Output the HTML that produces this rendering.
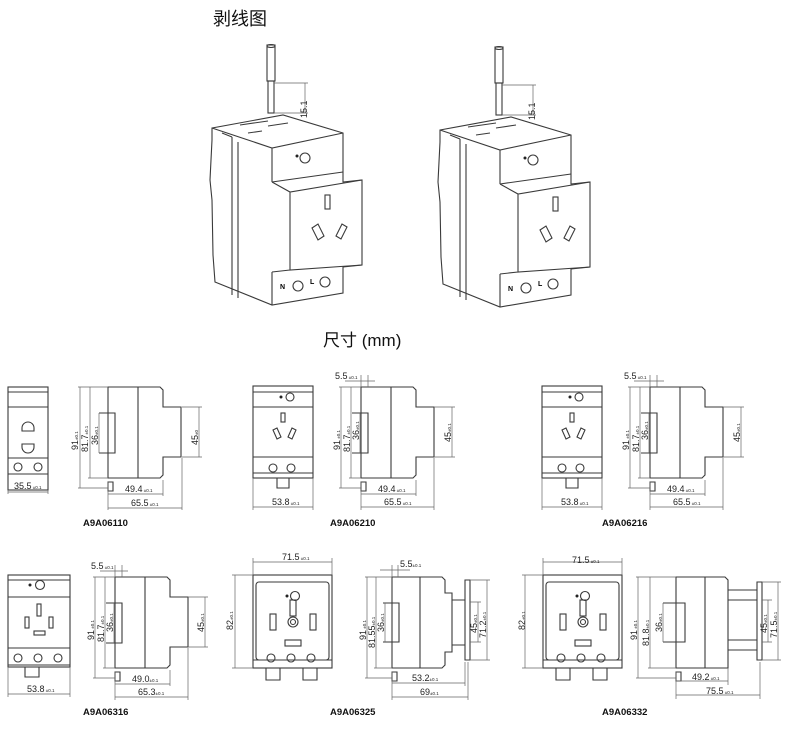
<!DOCTYPE html>
<html><head><meta charset="utf-8"><style>
html,body{margin:0;padding:0;background:#fff;}
svg{display:block;font-family:"Liberation Sans","Noto Sans CJK SC",sans-serif;}
.l{fill:none;stroke:#3a3a3a;stroke-width:1.1}
.t{stroke:#666;stroke-width:0.7;fill:none}
.d{font-size:9px;fill:#222}
.s{font-size:4.5px}
.lab{font-size:9.5px;font-weight:bold;fill:#111}
</style></head><body>
<svg width="790" height="732" viewBox="0 0 790 732" xmlns="http://www.w3.org/2000/svg">
<defs>
<g id="dev">
  <rect x="267" y="45" width="8" height="36" class="l" fill="#fff"/>
  <ellipse cx="271" cy="46" rx="4" ry="1.5" class="l"/>
  <rect x="268" y="81" width="6" height="32" class="l"/>
  <path class="t" d="M274,83 H308 M274,113 H308 M305,83 V113"/>
  <path class="l" d="M212,128 L283,115 L343,133 L343,182 L362,180 L362,265 L343,267 L343,293 L272,305 L215,282 L213,255 L212,200 L210,180 L212,140 Z"/>
  <path class="l" d="M212,128 L272,148 L343,133 M272,148 V182 M272,182 L343,172 M272,182 L290,192 L362,180 M290,192 V270 L362,265 M272,272 V305 M272,272 L290,270 M232,137 V295 M238,142 V298 M222,133 L232,137"/>
  <path class="l" d="M240,125 L268,121 M248,133 L262,131 M268,126 L288,123"/>
  <circle cx="305" cy="158" r="5" class="l"/><circle cx="297" cy="156" r="1.5" fill="#222"/>
  <rect x="325" y="195" width="5" height="14" class="l"/>
  <path class="l" d="M312,228 l6,-4 l6,12 l-6,4 Z M336,236 l6,-12 l5,3 l-6,12 Z"/>
  <circle cx="298" cy="286" r="5" class="l"/><circle cx="325" cy="282" r="5" class="l"/>
  <text x="280" y="289" style="font-size:7px;font-weight:bold">N</text>
  <text x="310" y="284" style="font-size:7px;font-weight:bold">L</text>
</g>
<g id="side">
  <path class="l" d="M0,0 H52 L55,3 V20 H73 V70 H55 V88 L52,91 H0 Z M30,0 V91 M-9,26 H7 V66 H-9 M0,66 V91 M0,95 h5 v9 h-5 Z"/>
</g>
</defs>

<text x="213" y="25" style="font-size:18px;fill:#111">剥线图</text>
<use href="#dev"/>
<use href="#dev" transform="translate(228,2)"/>
<text x="282" y="103" class="d" transform="rotate(-90 302 98)">15.1</text>
<text x="282" y="103" class="d" transform="translate(228,2) rotate(-90 302 98)">15.1</text>

<text x="323" y="346" style="font-size:17px;fill:#111">尺寸 (mm)</text>

<rect x="8" y="387" width="40" height="103" class="l"/>
<path class="l" d="M8,392 H48 M8,407 H48 M8,458 H48 M8,474 H48"/>
<path class="l" d="M22,428 a6,6 0 0 1 12,0 v3 h-12 z M22,444 h12 v3 a6,6 0 0 1 -12,0 z"/>
<circle cx="18" cy="467" r="4" class="l"/><circle cx="38" cy="467" r="4" class="l"/>
<path class="t" d="M8,490 V494 M48,490 V494 M8,492 H48"/>
<text x="14" y="489" class="d">35.5<tspan class="s"> ±0.1</tspan></text>
<use href="#side" transform="translate(108,387)"/>
<path class="t" d="M78,387 H108 M78,488 H108 M80,387 V488 M88,478 H108 M90,387 V478 M99,413 V453 M182,407 H202 M182,457 H202 M199,407 V457 M108,482 V510 M163,480 V496 M182,458 V510 M108,494 H163 M108,508 H182"/>
<text class="d" transform="translate(78,450) rotate(-90)">91<tspan class="s">±0.1</tspan></text>
<text class="d" transform="translate(88,452) rotate(-90)">81.7<tspan class="s">±0.1</tspan></text>
<text class="d" transform="translate(98,445) rotate(-90)">36<tspan class="s">±0.1</tspan></text>
<text class="d" transform="translate(198,445) rotate(-90)">45<tspan class="s">±0</tspan></text>
<text x="125" y="492" class="d">49.4<tspan class="s"> ±0.1</tspan></text>
<text x="131" y="506" class="d">65.5<tspan class="s"> ±0.1</tspan></text>
<text x="83" y="526" class="lab">A9A06110</text>

<g id="f2">
<rect x="253" y="386" width="60" height="92" class="l"/>
<path class="l" d="M253,392 H313 M253,407 H313 M253,457 H313 M253,473 H313 M277,478 v10 h12 v-10"/>
<circle cx="281" cy="397" r="1.5" fill="#222"/><circle cx="290" cy="397" r="4" class="l"/>
<rect x="281" y="413" width="4" height="9" class="l"/>
<path class="l" d="M273,430 l4,-2 l4,9 l-4,2 Z M288,437 l4,-9 l4,2 l-4,9 Z"/>
<circle cx="273" cy="468" r="4" class="l"/><circle cx="291" cy="468" r="4" class="l"/>
<path class="t" d="M253,478 V510 M313,478 V510 M253,507 H313"/>
<text x="272" y="505" class="d">53.8<tspan class="s"> ±0.1</tspan></text>
</g>
<g id="s2">
<use href="#side" transform="translate(361,387)"/>
<path class="t" d="M339,387 H361 M339,488 H361 M341,387 V488 M349,478 H361 M351,387 V478 M360,413 V453 M434,407 H455 M434,457 H455 M452,407 V457 M361,482 V510 M416,480 V496 M434,458 V510 M361,494 H416 M361,507 H434 M361,375 V387 M368,375 V387 M345,381 H375"/>
<text class="d" transform="translate(340,450) rotate(-90)">91<tspan class="s"> ±0.1</tspan></text>
<text class="d" transform="translate(350,452) rotate(-90)">81.7<tspan class="s">±0.1</tspan></text>
<text class="d" transform="translate(359,440) rotate(-90)">36<tspan class="s">±0.1</tspan></text>
<text class="d" transform="translate(451,442) rotate(-90)">45<tspan class="s">±0.1</tspan></text>
<text x="378" y="492" class="d">49.4<tspan class="s"> ±0.1</tspan></text>
<text x="384" y="505" class="d">65.5<tspan class="s"> ±0.1</tspan></text>
<text x="335" y="379" class="d">5.5<tspan class="s"> ±0.1</tspan></text>
</g>
<text x="330" y="526" class="lab">A9A06210</text>

<use href="#f2" transform="translate(289,0)"/>
<use href="#s2" transform="translate(289,0)"/>
<text x="602" y="526" class="lab">A9A06216</text>

<rect x="8" y="575" width="62" height="92" class="l"/>
<path class="l" d="M8,580 H70 M8,597 H70 M8,648 H70 M8,665 H70 M25,667 v10 h14 v-10"/>
<circle cx="30" cy="585" r="1.5" fill="#222"/><circle cx="40" cy="585" r="4.5" class="l"/>
<rect x="37" y="604" width="4" height="12" class="l"/>
<rect x="25" y="617" width="4" height="11" class="l"/><rect x="49" y="617" width="4" height="11" class="l"/>
<rect x="34" y="631" width="11" height="4" class="l"/>
<circle cx="18" cy="658" r="4" class="l"/><circle cx="38" cy="658" r="4" class="l"/><circle cx="58" cy="658" r="4" class="l"/>
<path class="t" d="M8,667 V697 M70,667 V697 M8,694 H70"/>
<text x="27" y="692" class="d">53.8<tspan class="s"> ±0.1</tspan></text>
<use href="#side" transform="translate(115,577)"/>
<path class="t" d="M93,577 H115 M93,678 H115 M95,577 V678 M103,668 H115 M105,577 V668 M114,603 V643 M188,597 H208 M188,647 H208 M205,597 V647 M115,672 V700 M170,670 V686 M188,648 V700 M115,684 H170 M115,697 H188 M115,565 V577 M122,565 V577 M100,571 H128"/>
<text class="d" transform="translate(94,640) rotate(-90)">91<tspan class="s"> ±0.1</tspan></text>
<text class="d" transform="translate(104,642) rotate(-90)">81.7<tspan class="s">±0.1</tspan></text>
<text class="d" transform="translate(113,632) rotate(-90)">36<tspan class="s">±0.1</tspan></text>
<text class="d" transform="translate(204,632) rotate(-90)">45<tspan class="s">±0.1</tspan></text>
<text x="132" y="682" class="d">49.0<tspan class="s">±0.1</tspan></text>
<text x="138" y="695" class="d">65.3<tspan class="s">±0.1</tspan></text>
<text x="91" y="569" class="d">5.5<tspan class="s"> ±0.1</tspan></text>
<text x="83" y="715" class="lab">A9A06316</text>

<g id="f5">
<rect x="253" y="575" width="79" height="93" class="l"/>
<rect x="256" y="582" width="73" height="78" rx="3" class="l"/>
<path class="l" d="M253,660 H332 M266,668 v12 h14 v-12 M303,668 v12 h14 v-12"/>
<circle cx="287" cy="596" r="1.5" fill="#222"/><circle cx="295" cy="596" r="4.5" class="l"/>
<rect x="290" y="600" width="6" height="16" class="l"/>
<rect x="270" y="614" width="6" height="16" class="l"/><rect x="310" y="614" width="6" height="16" class="l"/>
<circle cx="293" cy="622" r="5" class="l"/><circle cx="293" cy="622" r="2.5" class="l"/>
<rect x="285" y="640" width="16" height="6" class="l"/>
<circle cx="271" cy="658" r="4" class="l"/><circle cx="291" cy="658" r="4" class="l"/><circle cx="311" cy="658" r="4" class="l"/>
<path class="t" d="M253,575 V558 M332,575 V558 M253,562 H332 M232,575 H253 M232,668 H253 M235,575 V668"/>
</g>
<text x="282" y="560" class="d">71.5<tspan class="s"> ±0.1</tspan></text>
<text class="d" transform="translate(233,630) rotate(-90)">82<tspan class="s">±0.1</tspan></text>
<path class="l" d="M392,577 H442 L445,580 V593 H452 V652 H445 V665 L442,668 H392 Z M420,577 V668 M383,603 H399 V642 H383 M392,672 h5 v9 h-5 Z M452,600 H465 M452,645 H465 M465,580 H470 V660 H465 Z"/>
<path class="t" d="M365,577 H392 M365,678 H392 M367,577 V678 M374,668 H392 M376,577 V668 M385,603 V642 M470,602 H481 M470,642 H481 M478,602 V642 M470,580 H490 M470,660 H490 M487,580 V660 M392,672 V700 M465,662 V686 M468,662 V700 M392,683 H465 M392,697 H468 M392,565 V577 M398,565 V577 M380,570 H410"/>
<text class="d" transform="translate(366,640) rotate(-90)">91<tspan class="s"> ±0.1</tspan></text>
<text class="d" transform="translate(375,648) rotate(-90)">81.55<tspan class="s">±0.1</tspan></text>
<text class="d" transform="translate(384,632) rotate(-90)">36<tspan class="s">±0.1</tspan></text>
<text class="d" transform="translate(477,633) rotate(-90)">45<tspan class="s">±0.1</tspan></text>
<text class="d" transform="translate(486,638) rotate(-90)">71.2<tspan class="s">±0.1</tspan></text>
<text x="412" y="681" class="d">53.2<tspan class="s">±0.1</tspan></text>
<text x="420" y="695" class="d">69<tspan class="s">±0.1</tspan></text>
<text x="400" y="567" class="d">5.5<tspan class="s">±0.1</tspan></text>
<text x="330" y="715" class="lab">A9A06325</text>

<use href="#f5" transform="translate(290,0)"/>
<text x="572" y="563" class="d">71.5<tspan class="s"> ±0.1</tspan></text>
<text class="d" transform="translate(525,630) rotate(-90)">82<tspan class="s">±0.1</tspan></text>
<path class="l" d="M676,577 H725 L728,580 V668 H676 Z M705,577 V668 M663,603 H685 V642 H663 M676,672 h5 v9 h-5 Z M728,590 H757 M728,600 H757 M728,640 H757 M728,650 H757 M757,582 H762 V660 H757 Z"/>
<path class="t" d="M636,577 H676 M636,678 H676 M638,577 V678 M648,668 H676 M650,577 V668 M663,603 V642 M762,600 H772 M762,642 H772 M768,600 V642 M762,582 H781 M762,660 H781 M778,582 V660 M676,672 V699 M728,668 V685 M760,662 V699 M676,681 H728 M676,695 H760"/>
<text class="d" transform="translate(637,640) rotate(-90)">91<tspan class="s"> ±0.1</tspan></text>
<text class="d" transform="translate(649,646) rotate(-90)">81.8<tspan class="s">±0.1</tspan></text>
<text class="d" transform="translate(662,632) rotate(-90)">36<tspan class="s">±0.1</tspan></text>
<text class="d" transform="translate(767,633) rotate(-90)">45<tspan class="s">±0.1</tspan></text>
<text class="d" transform="translate(777,638) rotate(-90)">71.5<tspan class="s">±0.1</tspan></text>
<text x="692" y="680" class="d">49.2<tspan class="s"> ±0.1</tspan></text>
<text x="706" y="694" class="d">75.5<tspan class="s"> ±0.1</tspan></text>
<text x="602" y="715" class="lab">A9A06332</text>
</svg>
</body></html>
